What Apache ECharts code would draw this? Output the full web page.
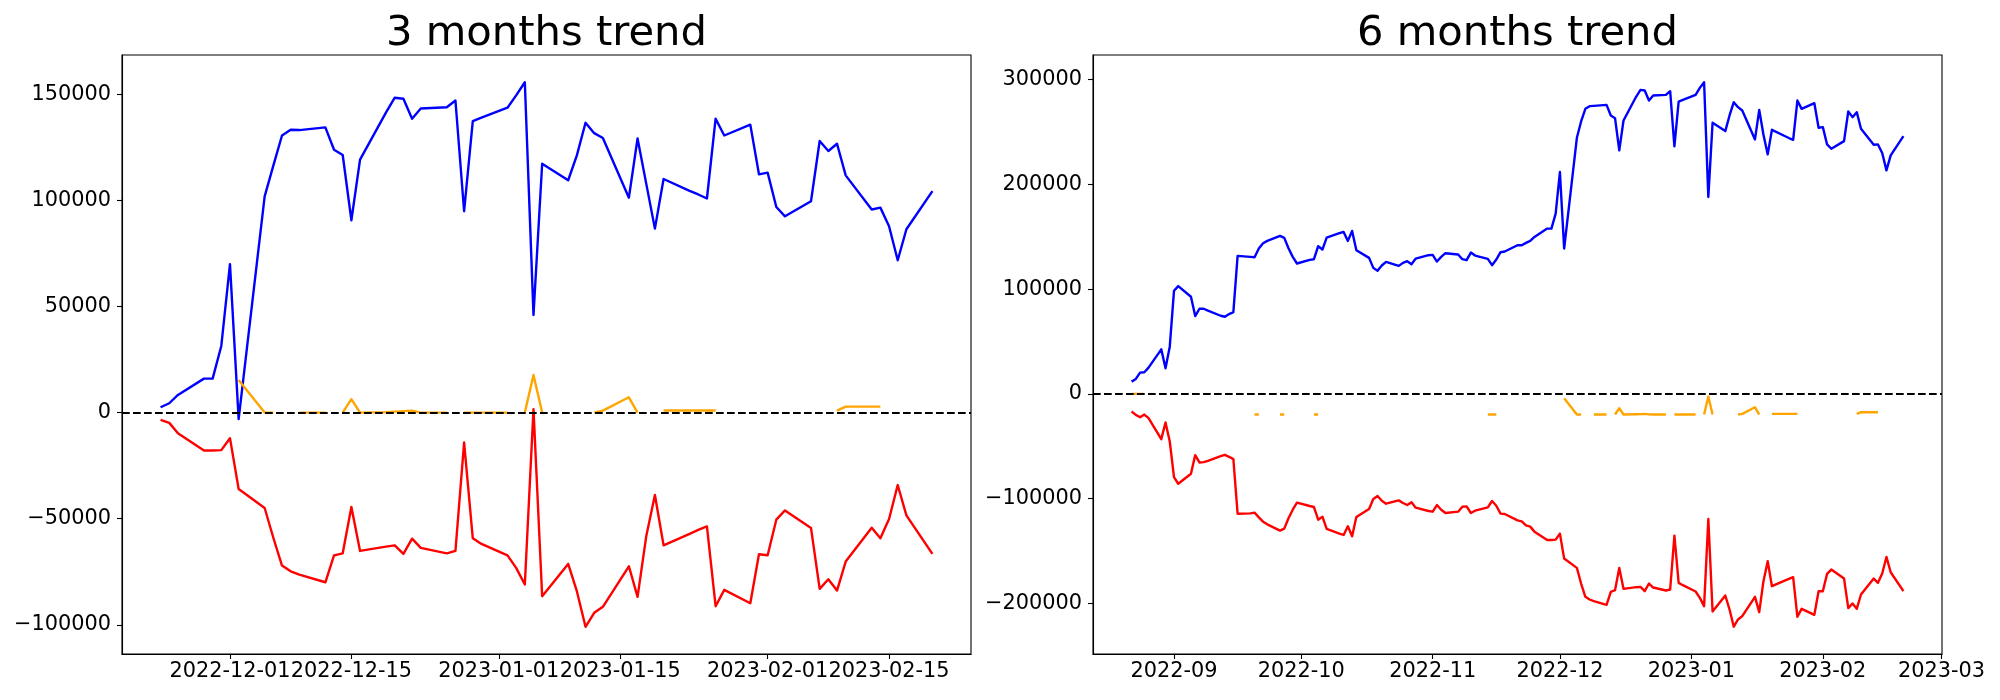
<!DOCTYPE html>
<html><head><meta charset="utf-8">
<script src="https://cdn.jsdelivr.net/npm/echarts@6/dist/echarts.min.js"></script>
<style>html,body{margin:0;padding:0;background:#fff}#c{width:2000px;height:700px}</style>
</head><body><div id="c"></div>
<script>
// ---------- 3 months trend ----------
const dates3 = ['2022-11-23','2022-11-24','2022-11-25','2022-11-28','2022-11-29','2022-11-30',
'2022-12-01','2022-12-02','2022-12-05','2022-12-06','2022-12-07','2022-12-08','2022-12-09','2022-12-12','2022-12-13','2022-12-14','2022-12-15','2022-12-16','2022-12-19','2022-12-20','2022-12-21','2022-12-22','2022-12-23','2022-12-26','2022-12-27','2022-12-28','2022-12-29','2022-12-30',
'2023-01-02','2023-01-03','2023-01-04','2023-01-05','2023-01-06','2023-01-09','2023-01-10','2023-01-11','2023-01-12','2023-01-13','2023-01-16','2023-01-17','2023-01-18','2023-01-19','2023-01-20','2023-01-23','2023-01-24','2023-01-25','2023-01-26','2023-01-27','2023-01-30','2023-01-31',
'2023-02-01','2023-02-02','2023-02-03','2023-02-06','2023-02-07','2023-02-08','2023-02-09','2023-02-10','2023-02-13','2023-02-14','2023-02-15','2023-02-16','2023-02-17','2023-02-20'];
const blue3 = [2500,4400,8300,16000,16000,31400,
69950,-3100,101900,116400,130600,133300,133150,134400,123900,121400,90650,119200,141500,148400,147900,138500,143300,143900,147100,94900,137400,139000,
143700,149500,155700,46000,117300,109500,121200,136600,131700,129400,101300,129200,107900,86700,110100,104500,102800,100900,138500,130600,135700,112300,
113100,96900,92500,99600,128000,123300,126700,111800,95700,96600,87800,71800,86400,104400];
const red3 = [-3430,-4850,-9720,-17860,-17860,-17700,
-12060,-36050,-44980,-59000,-72120,-74790,-76360,-79970,-67270,-66330,-44500,-65200,-63170,-62560,-66610,-59410,-63790,-66330,-65200,-14110,-59270,-61900,
-67270,-73200,-81050,1600,-86550,-71310,-84200,-100950,-94370,-91540,-72440,-86840,-58330,-38860,-62560,-57200,-55320,-53630,-91260,-83550,-89850,-66800,
-67270,-50470,-46100,-54380,-83080,-78560,-83870,-70230,-54240,-59270,-50150,-34150,-48450,-66610];
const orange3 = [null,null,null,null,null,null,
null,15400,0,0,null,null,0,0,null,0,6300,0,200,470,700,900,0,0,null,0,0,0,
0,null,0,17700,0,null,null,null,0,940,7200,0,null,null,950,950,950,950,950,null,null,null,
null,null,null,null,null,null,950,2830,2830,2830,null,null,null,null];
const xTicks3 = ['2022-12-01','2022-12-15','2023-01-01','2023-01-15','2023-02-01','2023-02-15'];
const yTicks3 = [-100000,-50000,0,50000,100000,150000];

// ---------- 6 months trend ----------
const dates6 = ['2022-08-22','2022-08-23','2022-08-24','2022-08-25','2022-08-26','2022-08-29','2022-08-30','2022-08-31',
'2022-09-01','2022-09-02','2022-09-05','2022-09-06','2022-09-07','2022-09-08','2022-09-09','2022-09-12','2022-09-13','2022-09-14','2022-09-15','2022-09-16','2022-09-19','2022-09-20','2022-09-21','2022-09-22','2022-09-23','2022-09-26','2022-09-27','2022-09-28','2022-09-29','2022-09-30',
'2022-10-03','2022-10-04','2022-10-05','2022-10-06','2022-10-07','2022-10-10','2022-10-11','2022-10-12','2022-10-13','2022-10-14','2022-10-17','2022-10-18','2022-10-19','2022-10-20','2022-10-21','2022-10-24','2022-10-25','2022-10-26','2022-10-27','2022-10-28','2022-10-31',
'2022-11-01','2022-11-02','2022-11-03','2022-11-04','2022-11-07','2022-11-08','2022-11-09','2022-11-10','2022-11-11','2022-11-14','2022-11-15','2022-11-16','2022-11-17','2022-11-18','2022-11-21','2022-11-22','2022-11-23','2022-11-24','2022-11-25','2022-11-28','2022-11-29','2022-11-30',
'2022-12-01','2022-12-02','2022-12-05','2022-12-06','2022-12-07','2022-12-08','2022-12-09','2022-12-12','2022-12-13','2022-12-14','2022-12-15','2022-12-16','2022-12-19','2022-12-20','2022-12-21','2022-12-22','2022-12-23','2022-12-26','2022-12-27','2022-12-28','2022-12-29','2022-12-30',
'2023-01-02','2023-01-03','2023-01-04','2023-01-05','2023-01-06','2023-01-09','2023-01-10','2023-01-11','2023-01-12','2023-01-13','2023-01-16','2023-01-17','2023-01-18','2023-01-19','2023-01-20','2023-01-23','2023-01-24','2023-01-25','2023-01-26','2023-01-27','2023-01-30','2023-01-31',
'2023-02-01','2023-02-02','2023-02-03','2023-02-06','2023-02-07','2023-02-08','2023-02-09','2023-02-10','2023-02-13','2023-02-14','2023-02-15','2023-02-16','2023-02-17','2023-02-20'];
const blue6 = [11730,14290,20290,20640,25080,42540,24440,45090,
98410,102860,92700,74290,81270,81270,79500,74600,73650,76190,78100,131750,130800,130480,138740,143800,146030,150800,148900,139050,130800,124450,
127930,128570,140960,137780,149200,153450,154600,146030,155560,137150,129850,120300,117460,122530,126030,122210,125080,126670,123810,129200,132380,
132700,126350,130800,134290,133030,128570,127620,134920,132060,128890,122860,128250,135240,135880,141910,141910,144100,146030,149840,157780,157780,172060,
211750,138740,244450,260000,272060,274610,274930,275880,265720,263180,232380,260960,283810,290170,289530,280000,284770,285400,288900,236200,279050,280640,
285400,292060,297460,187950,258730,250800,265720,278420,273650,270480,242860,271110,247300,228580,252060,246130,244200,242540,280000,272060,277460,253980,
254620,238100,233970,241270,269530,264130,268900,253020,237770,238100,229850,213340,227620,246030];
const red6 = [-16840,-20000,-22220,-19680,-23170,-43180,-27300,-45400,
-79370,-85720,-76190,-58420,-65400,-65080,-63810,-59370,-58100,-60000,-62220,-114290,-114000,-113340,-117780,-121900,-124450,-130480,-128570,-118730,-110480,-103810,
-106980,-107930,-120000,-117140,-128890,-133340,-134600,-126350,-135880,-117460,-109840,-100320,-97460,-101900,-104760,-101590,-104120,-106030,-103490,-108570,-111750,
-112380,-106030,-110480,-113650,-112380,-107620,-107300,-113650,-111430,-108250,-102220,-106670,-114290,-114610,-120630,-121580,-125400,-126670,-131430,-139370,-139370,-139050,
-133340,-157150,-166030,-180960,-193650,-196190,-197780,-201270,-188890,-187300,-166030,-186040,-184440,-184120,-188250,-180960,-184760,-187620,-186670,-135240,-180320,-182540,
-188580,-194600,-202540,-119370,-207620,-192380,-205720,-222220,-215240,-212060,-193650,-208250,-178730,-159680,-183490,-178100,-176500,-174920,-212700,-205080,-210800,-188250,
-188250,-171750,-167620,-176190,-204440,-200000,-205080,-191430,-176190,-180320,-171430,-155560,-170160,-188250];
const orange6 = [0,0,0,0,null,null,null,null,
null,null,null,null,null,null,null,null,null,null,null,null,null,-19680,-19680,null,null,-19680,-19680,null,null,null,
null,-19680,-19680,null,null,null,null,null,null,null,null,null,null,null,null,null,null,null,null,null,null,
null,null,null,null,null,null,null,null,null,-19680,-19680,-19680,null,null,null,null,null,null,null,null,null,null,
null,-4130,-19680,-19680,null,null,-19680,-19680,null,-19680,-13650,-19680,-19400,-19300,-19050,-19500,-19680,-19680,null,-19680,-19680,-19680,
-19680,null,-19680,-2540,-19680,null,null,null,-19680,-19050,-12700,-19680,null,null,-19050,-19050,-19050,-19050,-19050,null,null,null,
null,null,null,null,null,null,-19050,-17460,-17460,-17460,null,null,null,null];
const xTicks6 = ['2022-09','2022-10','2022-11','2022-12','2023-01','2023-02','2023-03'];
const yTicks6 = [-200000,-100000,0,100000,200000,300000];

const titles = ['3 months trend', '6 months trend'];

// ---------- helpers ----------
function ts(s) { const p = s.split('-').map(Number); return Date.UTC(p[0], p[1] - 1, p[2] || 1); }
function pairs(dates, vals) { return dates.map((d, i) => [ts(d), vals[i]]); }
function xRange(dates) { const a = ts(dates[0]), b = ts(dates[dates.length - 1]); const m = 0.05 * (b - a); return [a - m, b + m]; }
function yRange(arrs) { let lo = Infinity, hi = -Infinity; arrs.forEach(a => a.forEach(v => { if (v !== null) { lo = Math.min(lo, v); hi = Math.max(hi, v); } })); const m = 0.05 * (hi - lo); return [lo - m, hi + m]; }
function fmtY(v) { return v < 0 ? '\u2212' + Math.abs(v) : String(v); }

const FONT = 'DejaVu Sans';
const LBL = 20.83;
const LW = 2.4;
const grids = [
  { left: 122, top: 55, width: 849, height: 599 },
  { left: 1093, top: 55, width: 849, height: 599 }
];
const sets = [
  { dates: dates3, blue: blue3, red: red3, orange: orange3, xt: xTicks3, yt: yTicks3 },
  { dates: dates6, blue: blue6, red: red6, orange: orange6, xt: xTicks6, yt: yTicks6 }
];

const xAxis = [], yAxis = [], series = [], title = [];
sets.forEach((s, i) => {
  const xr = xRange(s.dates);
  const yr = yRange([s.blue, s.red, s.orange]);
  const xtv = s.xt.map(ts);
  xAxis.push({
    type: 'value', gridIndex: i, min: xr[0], max: xr[1],
    axisLine: { onZero: false, lineStyle: { color: '#000', width: 1.1 } },
    axisTick: { show: true, length: 5, lineStyle: { color: '#000', width: 1.1 }, customValues: xtv },
    axisLabel: { customValues: xtv, color: '#000', fontFamily: FONT, fontSize: LBL, margin: 7,
      formatter: (v) => { const k = xtv.indexOf(v); return k >= 0 ? s.xt[k] : ''; } },
    splitLine: { show: false }
  });
  yAxis.push({
    type: 'value', gridIndex: i, min: yr[0], max: yr[1],
    axisLine: { show: true, lineStyle: { color: '#000', width: 1.1 } },
    axisTick: { show: true, length: 5, lineStyle: { color: '#000', width: 1.1 }, customValues: s.yt },
    axisLabel: { customValues: s.yt, color: '#000', fontFamily: FONT, fontSize: LBL, margin: 11, formatter: fmtY },
    splitLine: { show: false }
  });
  const base = { type: 'line', xAxisIndex: i, yAxisIndex: i, showSymbol: false, symbol: 'none', connectNulls: false, animation: false, silent: true };
  series.push(Object.assign({}, base, { name: 'blue' + i, data: pairs(s.dates, s.blue), lineStyle: { color: '#0000ff', width: LW, join: 'round' }, z: 2 }));
  series.push(Object.assign({}, base, { name: 'orange' + i, data: pairs(s.dates, s.orange), lineStyle: { color: '#ffa500', width: LW, join: 'round' }, z: 2 }));
  series.push(Object.assign({}, base, { name: 'red' + i, data: pairs(s.dates, s.red), lineStyle: { color: '#ff0000', width: LW, join: 'round' }, z: 2 }));
  series.push(Object.assign({}, base, { name: 'zero' + i, data: [], z: 5,
    markLine: { silent: true, animation: false, symbol: ['none', 'none'], label: { show: false },
      lineStyle: { color: '#000', width: 2.1, type: [7.7, 3.3] }, data: [{ yAxis: 0 }] } }));
  title.push({ text: titles[i], left: grids[i].left + grids[i].width / 2, top: 13, textAlign: 'center', padding: 0,
    textStyle: { fontFamily: FONT, fontSize: 41.67, fontWeight: 'normal', color: '#000' } });
});

const chart = echarts.init(document.getElementById('c'), null, { renderer: 'canvas' });
chart.setOption({
  backgroundColor: '#fff',
  animation: false,
  title: title,
  grid: grids.map(g => Object.assign({ show: true, borderColor: '#000', borderWidth: 1.1, backgroundColor: 'transparent' }, g)),
  xAxis: xAxis, yAxis: yAxis, series: series
});
</script>
</body></html>
